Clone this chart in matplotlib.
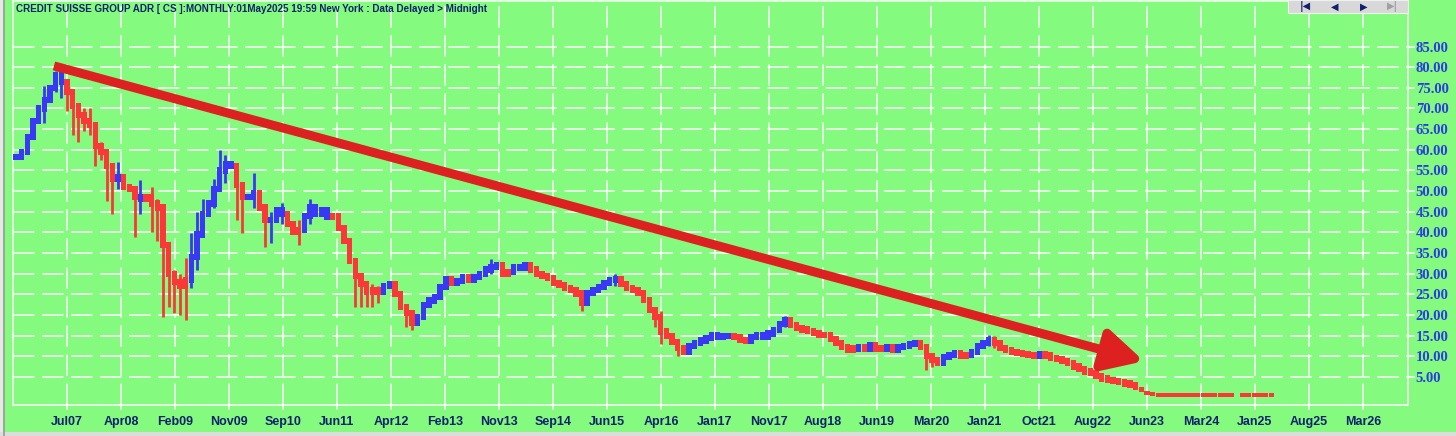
import numpy as np
import matplotlib
matplotlib.use('Agg')
import matplotlib.pyplot as plt
from matplotlib.patches import Rectangle
from matplotlib.lines import Line2D

# monthly closes, first bar is Oct 2006 (month -9, counted from Jul 2007)
first_month = -9
closes = [
    58.3, 59.5, 63, 67, 70, 72, 75, 78, 76.5,                      # Oct06-Jun07
    74, 70.5, 68.5, 67, 66, 61, 59.5, 56, 53, 53.5, 51, 50.5,      # Jul07-Jun08
    48.5, 48, 48.5, 47, 46, 37, 30, 28, 27, 28.5, 34, 39.5,        # Jul08-Jun09
    44.5, 47, 50.5, 55, 56.5, 56, 51.5, 48.5, 48.5, 49.5, 46, 43,  # Jul09-Jun10
    43, 45.5, 44.5, 42, 40, 40.5, 44, 46, 44.5, 45.5, 43.7, 44,    # Jul10-Jun11
    41, 38, 33, 29.5, 27.5, 25.5, 26, 25.5, 27, 27.5, 25, 22,      # Jul11-Jun12
    20.4, 18, 19.5, 22.5, 23.5, 24.3, 26.8, 28.8, 27.7, 28.3, 29.2, 28.5,  # Jul12-Jun13
    29.2, 30, 31, 31.6, 32, 30, 30.4, 31.6, 31.3, 32, 31, 30,      # Jul13-Jun14
    29.5, 28.9, 27.7, 27.2, 26.5, 26, 25.2, 23, 25.3, 26, 26.8, 27.7,  # Jul14-Jun15
    28.5, 28.7, 27.5, 26.5, 26, 25.3, 23.6, 21.2, 19.5, 16, 15, 13.5,  # Jul15-Jun16
    12, 11, 12.5, 13.2, 13.8, 14.4, 15.1, 14.7, 14.9, 15, 14.7, 14,    # Jul16-Jun17
    13.8, 14.7, 15.1, 14.7, 15.5, 16.3, 17.8, 18.8, 17.5, 16.8, 16.5, 16.1,  # Jul17-Jun18
    15.6, 15.1, 15.1, 14.2, 13.2, 12.2, 11.5, 11.9, 12.1, 11.9, 12.7, 11.9,  # Jul18-Jun19
    11.8, 12.2, 11.5, 12.2, 12.5, 13, 13.2, 12.2, 10, 9.1, 8.3, 9.8,   # Jul19-Jun20
    10.3, 10.8, 10.2, 10.3, 11, 12.5, 13.2, 14, 13.2, 12, 11.5, 11,    # Jul20-Jun21
    10.8, 10.5, 10.3, 10, 10.6, 10.2, 9.6, 9.3, 8.8, 8.3, 7.5, 6.9,    # Jul21-Jun22
    6.3, 5.9, 5.2, 4.6, 4.3, 4, 3.7, 3.4, 3, 2.5, 1.4, 1.0,            # Jul22-Jun23
    0.85, 0.6, 0.6, 0.6, 0.6, 0.6, 0.6, 0.6, 0.6, 0.6, 0.6, 0.6,       # Jul23-Jun24
    0.6, 0.6, 0.6, np.nan, 0.6, 0.6, 0.6, 0.6, 0.6, 0.6,               # Jul24-Apr25
]

# trend colouring of the bars: (number of bars, colour)
color_runs = [
    (9, 'b'), (9, 'r'), (1, 'b'), (3, 'r'), (1, 'b'), (8, 'r'), (8, 'b'),
    (2, 'r'), (2, 'b'), (2, 'r'), (3, 'b'), (3, 'r'), (5, 'b'), (9, 'r'),
    (2, 'b'), (4, 'r'), (6, 'b'), (1, 'r'), (2, 'b'), (1, 'r'), (5, 'b'),
    (2, 'r'), (3, 'b'), (10, 'r'), (6, 'b'), (12, 'r'), (8, 'b'), (3, 'r'),
    (7, 'b'), (12, 'r'), (1, 'b'), (1, 'r'), (1, 'b'), (2, 'r'), (1, 'b'),
    (1, 'r'), (4, 'b'), (4, 'r'), (3, 'b'), (2, 'r'), (4, 'b'), (8, 'r'),
    (1, 'b'), (41, 'r'),
]

# visible high/low wicks: (month, low, high)
wicks = [
    (-4, 66.5, 75.5), (-2, 74, 79), (-1, 72.5, 78.6), (0, 69.5, 76.5),
    (1, 63.5, 74.5), (2, 62, 70), (3, 64.5, 70), (4, 63.5, 70), (5, 56, 66),
    (6, 57.5, 62), (7, 47.5, 60), (8, 44.5, 56), (9, 50.5, 57), (12, 38.8, 51),
    (13, 44.4, 52.7), (15, 40, 51), (16, 38, 48), (17, 19.5, 46), (18, 22, 37),
    (19, 20.5, 31), (20, 20, 30), (21, 18.7, 33.8), (22, 26.5, 39.8),
    (23, 31, 45), (24, 40, 48), (26, 46, 53), (27, 50, 60), (28, 52, 58.7),
    (30, 43, 54), (31, 39.8, 52), (33, 46, 54.3), (35, 36.4, 46), (36, 37.5, 45),
    (38, 42, 47.2), (41, 37, 43), (43, 42, 48), (51, 22, 33), (52, 22, 30),
    (53, 22, 28), (54, 22, 27.5), (55, 23, 27), (60, 17, 22), (61, 16.3, 21),
    (75, 30, 33.5), (91, 21, 25), (97, 27, 30), (104, 17, 21.5), (105, 13, 21),
    (108, 10, 13.5), (127, 17, 19.8), (152, 6.7, 13), (153, 7.5, 10.5),
    (163, 12.5, 15.2), (164, 12, 15),
]

tick_labels = ['Jul07', 'Apr08', 'Feb09', 'Nov09', 'Sep10', 'Jun11', 'Apr12',
               'Feb13', 'Nov13', 'Sep14', 'Jun15', 'Apr16', 'Jan17', 'Nov17',
               'Aug18', 'Jun19', 'Mar20', 'Jan21', 'Oct21', 'Aug22', 'Jun23',
               'Mar24', 'Jan25', 'Aug25', 'Mar26']
y_ticks = [5, 10, 15, 20, 25, 30, 35, 40, 45, 50, 55, 60, 65, 70, 75, 80, 85]

title = ("CREDIT SUISSE GROUP ADR [ CS ]:MONTHLY:01May2025 19:59 "
         "New York : Data Delayed > Midnight")

# hand-drawn trend arrow (month, price)
arrow_from = (-2.3, 80.3)
arrow_to = (190.5, 8.8)

GREEN = '#84fb7e'
RED = '#fa3838'
BLUE = '#3838f5'
NAVY = '#12206e'

W, H = 1456, 436
fig = plt.figure(figsize=(W / 100, H / 100), dpi=100, facecolor=GREEN)
ax = fig.add_axes([13 / W, 1 - 405 / H, (1408 - 13) / W, (405 - 1.5) / H])
ax.set_facecolor(GREEN)

# bars: body spans previous close to close, padded a little
c = np.array(closes, dtype=float)
months = np.arange(len(c)) + first_month
o = np.r_[c[0], c[:-1]]
o = np.where(np.isnan(o), c, o)
lo = np.fmin(o, c)
hi = np.fmax(o, c)
mid = (lo + hi) / 2
h = np.maximum(hi - lo + 1.5, 1.0)
h[c < 1.5] = 1.0
cols = []
for n, col in color_runs:
    cols += [BLUE if col == 'b' else RED] * n
cols = np.array(cols[:len(c)])
ok = ~np.isnan(c)
ax.bar(months[ok], h[ok], bottom=(mid - h / 2)[ok], width=0.95,
       color=cols[ok], linewidth=0, zorder=3)

wm = [w[0] for w in wicks]
wcol = [cols[m - first_month] for m in wm]
ax.vlines(wm, [w[1] for w in wicks], [w[2] for w in wicks],
          colors=wcol, lw=2.0, zorder=3)

# trend arrow
ax.annotate('', xy=arrow_to, xytext=arrow_from,
            arrowprops=dict(arrowstyle='-|>,head_length=2.4,head_width=1.25',
                            color='#dd2020', lw=6.5, shrinkA=0, shrinkB=0,
                            joinstyle='round', capstyle='butt'),
            zorder=5)

# axes / grid
step = 9.55
ax.set_xlim(-9.55, (1408 - 67) / 5.654)
ax.set_ylim(-1.8, 95.9)
ax.set_xticks(np.arange(len(tick_labels)) * step)
ax.set_xticklabels(tick_labels, fontsize=9, fontweight='bold',
                   family='Liberation Sans')
ax.yaxis.tick_right()
ax.set_yticks(y_ticks)
ax.set_yticklabels([f'{v:.2f}' for v in y_ticks], fontsize=10.5,
                   fontweight='bold', family='Liberation Serif')
ax.tick_params(axis='x', colors='white', labelcolor=NAVY, length=3.6,
               width=1.1, direction='out', pad=4)
ax.tick_params(axis='y', colors='white', labelcolor='#2a3ee0', length=5,
               width=1.1, direction='out', pad=0.5)
ax.set_axisbelow(True)
ax.grid(color='white', lw=1.1, ls=(0, (14, 5)))
for s in ax.spines.values():
    s.set_color('white')
    s.set_linewidth(1.1)

# title
fig.text(16 / W, 1 - 9.5 / H, title, ha='left', va='center', fontsize=7.1,
         fontweight='bold', color=NAVY, family='Liberation Sans', zorder=10)

# navigation buttons top right
fig.add_artist(Rectangle((1288 / W, 1 - 13 / H), 120 / W, 13 / H,
                         transform=fig.transFigure, facecolor='#d8d8d8',
                         edgecolor='#f0f0f0', lw=0.8, zorder=10))
for gx, g, gc in [(1305, '|◀', NAVY), (1335, '◀', NAVY),
                  (1364, '▶', NAVY), (1393, '▶|', '#a0a0a0')]:
    fig.text(gx / W, 1 - 6.5 / H, g, ha='center', va='center', fontsize=7,
             color=gc, fontweight='bold', zorder=11)

# window frame
fig.add_artist(Rectangle((0, 0), 3 / W, 1, transform=fig.transFigure,
                         facecolor='#e8e8e8', lw=0, zorder=10))
fig.add_artist(Line2D([3.5 / W, 3.5 / W], [0, 1], transform=fig.transFigure,
                      color='#9a9a9a', lw=1.2, zorder=11))
fig.add_artist(Rectangle((0, 0), 1, 4 / H, transform=fig.transFigure,
                         facecolor='#dcdcdc', lw=0, zorder=10))

fig.savefig('out.png', dpi=100, facecolor=GREEN)
